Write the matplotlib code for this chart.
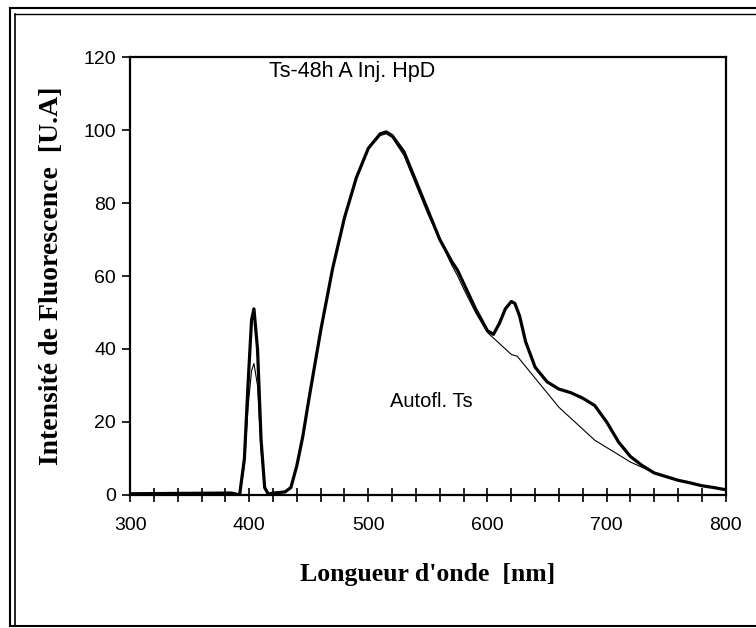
import matplotlib.pyplot as plt
from matplotlib.lines import Line2D
import numpy as np

# longueur d'onde (nm) et intensités
nm_hpd = [300, 340, 385, 392, 396, 399, 402, 404, 407, 410, 413, 416, 420, 430,
          435, 440, 445, 450, 460, 470, 480, 490, 500, 510, 515, 520, 530, 540,
          550, 560, 570, 575, 580, 590, 600, 605, 610, 615, 620, 623, 627, 632,
          640, 650, 660, 670, 680, 690, 700, 710, 720, 730, 740, 750, 760, 770,
          780, 790, 800]
hpd = [0.3, 0.4, 0.5, 0.0, 10, 30, 48, 51, 40, 15, 2, 0.2, 0.5, 0.8,
       2, 8, 16, 26, 45, 62, 76, 87, 95, 99, 99.5, 98.5, 94, 86,
       78, 70, 64, 61.5, 58, 51, 45, 44, 47, 51, 53, 52.5, 49, 42,
       35, 31, 29, 28, 26.5, 24.5, 20, 14.5, 10.5, 8, 6, 5, 4, 3.3,
       2.5, 2, 1.4]

nm_auto = [300, 340, 385, 392, 396, 399, 402, 404, 407, 410, 413, 416, 420, 430,
           435, 440, 445, 450, 460, 470, 480, 490, 500, 510, 515, 520, 530, 540,
           550, 560, 570, 575, 580, 590, 600, 610, 620, 625, 630, 640, 650, 660,
           670, 680, 690, 700, 710, 720, 730, 740, 750, 760, 770, 780, 790, 800]
auto = [0.3, 0.4, 0.5, 0.0, 8, 24, 34, 36, 30, 12, 2, 0.2, 0.5, 0.8,
        2, 8, 16, 26, 45, 62, 76, 87, 95, 98.5, 99, 98, 93, 85,
        77, 70, 63, 60, 56.5, 50, 44.5, 41.5, 38.5, 38, 36, 32, 28, 24,
        21, 18, 15, 13, 11, 9, 7.5, 6, 5, 4, 3.3, 2.5, 2, 1.4]

x_ticks = [300, 400, 500, 600, 700, 800]
y_ticks = [0, 20, 40, 60, 80, 100, 120]

fig = plt.figure(figsize=(7.56, 6.28), dpi=100)
ax = fig.add_axes([0.172, 0.212, 0.788, 0.697])

ax.plot(nm_auto, auto, color='black', lw=0.8)
ax.plot(nm_hpd, hpd, color='black', lw=2.3)

ax.set_xlim(300, 800)
ax.set_ylim(0, 120)
ax.set_xticks(x_ticks)
ax.set_xticks(np.arange(300, 801, 20), minor=True)
ax.set_yticks(y_ticks)
ax.tick_params(axis='x', which='both', direction='inout', length=10, width=1.2,
               labelsize=14, pad=11)
ax.tick_params(axis='y', direction='out', length=6, width=1.2, labelsize=14,
               pad=4)
for lab in ax.get_xticklabels() + ax.get_yticklabels():
    lab.set_family('Liberation Sans')
for s in ax.spines.values():
    s.set_linewidth(1.6)

ax.set_xlabel("Longueur d'onde  [nm]", family='Liberation Serif',
              fontweight='bold', fontsize=18.5, labelpad=21)
ax.set_ylabel("Intensité de Fluorescence  [U.A]", family='Liberation Serif',
              fontweight='bold', fontsize=20, labelpad=14)

ax.text(417, 116, 'Ts-48h A Inj. HpD', family='Liberation Sans', fontsize=15.5,
        va='center')
ax.text(518, 25.5, 'Autofl. Ts', family='Liberation Sans', fontsize=14.5,
        va='center')

# cadre extérieur
for xx, yy, w in [([0.013, 0.013], [0.003, 0.987], 1.5),
                  ([0.020, 0.020], [0.003, 0.978], 1.2),
                  ([0.013, 1.0], [0.987, 0.987], 1.5),
                  ([0.020, 1.0], [0.978, 0.978], 1.0),
                  ([0.013, 1.0], [0.003, 0.003], 1.5)]:
    fig.add_artist(Line2D(xx, yy, color='black', lw=w, transform=fig.transFigure))

plt.savefig('out.png', dpi=100)
